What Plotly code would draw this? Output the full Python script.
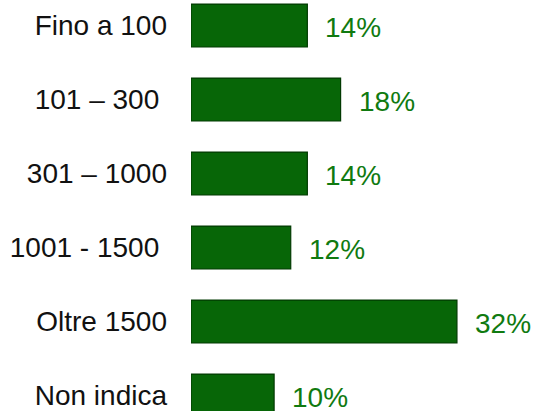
import plotly.graph_objects as go

# Data
categories = ["Fino a 100", "101 \u2013 300\u00a0", "301 \u2013 1000", "1001 - 1500\u00a0", "Oltre 1500", "Non indica"]
values = [14, 18, 14, 12, 32, 10]
value_labels = ["14%", "18%", "14%", "12%", "32%", "10%"]

bar_green = "#076607"
text_green = "#107a10"
font_family = "Arial, Liberation Sans, sans-serif"

fig = go.Figure()

fig.add_trace(go.Bar(
    x=values,
    y=categories,
    orientation="h",
    width=0.58,
    marker=dict(color=bar_green, line=dict(color="#023a02", width=1.2)),
    hoverinfo="skip",
))

# value labels to the right of each bar
for cat, val, lab in zip(categories, values, value_labels):
    fig.add_annotation(
        x=val, y=cat, text=lab,
        xanchor="left", yanchor="middle",
        xshift=16, yshift=-2,
        showarrow=False,
        font=dict(family=font_family, size=28, color=text_green),
    )

fig.update_layout(
    width=533,
    height=411,
    margin=dict(l=191, r=0, t=0, b=0),
    paper_bgcolor="white",
    plot_bgcolor="white",
    showlegend=False,
    xaxis=dict(range=[0, 41.15], visible=False, fixedrange=True),
    yaxis=dict(
        range=[5.209, -0.345],
        showgrid=False,
        zeroline=False,
        showline=False,
        ticks="",
        ticklabelstandoff=23,
        tickfont=dict(family=font_family, size=28, color="#111111"),
        fixedrange=True,
    ),
)

# drop the default page margin so the figure sits at the window corner
fig.write_html(
    "out.html",
    config={"displayModeBar": False},
    post_script="document.body.style.margin='0';document.body.style.overflow='hidden';",
)
